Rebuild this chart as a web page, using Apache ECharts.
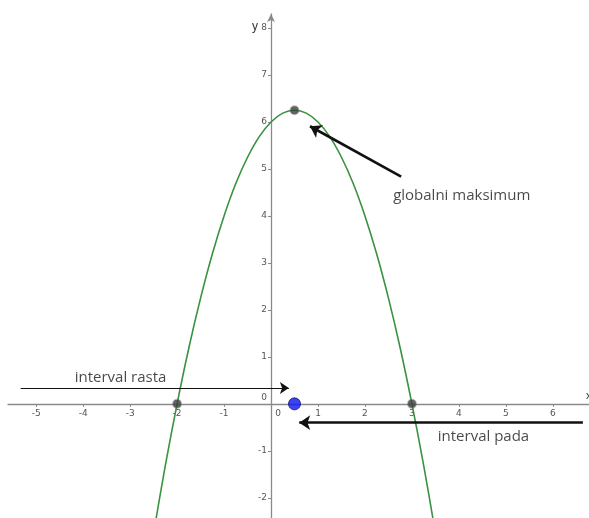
<!DOCTYPE html>
<html>
<head>
<meta charset="utf-8">
<title>Parabola</title>
<script src="https://cdn.jsdelivr.net/npm/echarts@6/dist/echarts.min.js"></script>
<style>
  html, body { margin: 0; padding: 0; background: #fff; }
  #chart { width: 589px; height: 518px; }
</style>
</head>
<body>
<div id="chart"></div>
<script>
// curve points
const curveX = [-2.5, -2.25, -2, -1.75, -1.5, -1.25, -1, -0.75, -0.5, -0.25, 0, 0.25, 0.5,
  0.75, 1, 1.25, 1.5, 1.75, 2, 2.25, 2.5, 2.75, 3, 3.25, 3.5];
const curveY = [-2.75, -1.31, 0, 1.19, 2.25, 3.19, 4, 4.69, 5.25, 5.69, 6, 6.19, 6.25,
  6.19, 6, 5.69, 5.25, 4.69, 4, 3.19, 2.25, 1.19, 0, -1.31, -2.75];

// marked points: zeros and the maximum
const specialPoints = [[-2, 0], [3, 0], [0.5, 6.25]];
const midPoint = [[0.5, 0]];

const xTicks = [-5, -4, -3, -2, -1, 0, 1, 2, 3, 4, 5, 6];
const yTicks = [-2, -1, 0, 1, 2, 3, 4, 5, 6, 7, 8];

// annotation arrows [from, to]
const arrowRasta = [[-5.33, 0.34], [0.38, 0.34]];
const arrowPada = [[6.64, -0.4], [0.6, -0.4]];
const arrowMax = [[2.77, 4.84], [0.83, 5.91]];

const labelTexts = ['interval rasta', 'globalni maksimum', 'interval pada'];
const labelPos = [[-4.18, 0.56], [2.6, 4.44], [3.55, -0.71]];

const axisColor = '#8a8a8a';
const tickFont = { color: '#555', fontSize: 9, fontFamily: 'DejaVu Sans' };

const chart = echarts.init(document.getElementById('chart'));
const gridBox = { left: 8, right: 0, top: 14, bottom: 0 };

chart.setOption({
  animation: false,
  backgroundColor: '#fff',
  grid: { ...gridBox, outerBoundsMode: 'none', containLabel: false },
  xAxis: {
    type: 'value',
    min: -5.6,
    max: 6.77,
    position: 'bottom',
    name: 'x',
    nameGap: -3,
    nameMoveOverlap: false,
    nameTextStyle: { color: '#333', fontSize: 11, verticalAlign: 'bottom', padding: [0, 0, 2, 0] },
    axisLine: { onZero: false, lineStyle: { color: axisColor, width: 1.3 } },
    axisTick: { customValues: xTicks, length: 3, lineStyle: { color: axisColor } },
    axisLabel: {
      customValues: xTicks,
      margin: 5,
      ...tickFont,
      formatter: v => (v === 0 ? '{z|0}' : String(v)),
      rich: { z: { ...tickFont, padding: [0, 0, 0, 14] } }
    },
    splitLine: { show: false }
  },
  yAxis: {
    type: 'value',
    min: -2.43,
    max: 8.3,
    position: 'left',
    name: 'y',
    nameGap: -13,
    nameMoveOverlap: false,
    nameTextStyle: { color: '#333', fontSize: 12, align: 'right', verticalAlign: 'middle', padding: [0, 13, 0, 0] },
    axisLine: { onZero: false, symbol: ['none', 'arrow'], symbolSize: [6, 8], lineStyle: { color: axisColor, width: 1.3 } },
    axisTick: { customValues: yTicks, length: 3, lineStyle: { color: axisColor } },
    axisLabel: {
      customValues: yTicks,
      margin: 4,
      ...tickFont,
      formatter: v => (v === 0 ? '{z|0}' : String(v)),
      rich: { z: { ...tickFont, padding: [0, 0, 12, 0] } }
    },
    splitLine: { show: false }
  },
  series: [
    {
      type: 'line',
      data: curveX.map((x, i) => [x, curveY[i]]),
      smooth: 0.3,
      showSymbol: false,
      clip: true,
      lineStyle: { color: '#3a9140', width: 1.6 },
      z: 3
    },
    {
      type: 'scatter',
      data: specialPoints,
      symbolSize: 8,
      itemStyle: { color: '#3d3d3d', borderColor: 'rgba(90,90,90,0.5)', borderWidth: 2 },
      z: 5
    },
    {
      type: 'scatter',
      data: midPoint,
      symbolSize: 12,
      itemStyle: { color: '#0a14f0', borderColor: '#10107a', borderWidth: 1 },
      z: 5
    },
    {
      type: 'lines',
      coordinateSystem: 'cartesian2d',
      symbol: ['none', 'arrow'],
      symbolSize: 9,
      data: [{ coords: arrowRasta }],
      lineStyle: { color: '#111', width: 1.2, opacity: 1 },
      z: 6
    },
    {
      type: 'lines',
      coordinateSystem: 'cartesian2d',
      symbol: ['none', 'arrow'],
      symbolSize: 11,
      data: [{ coords: arrowPada }, { coords: arrowMax }],
      lineStyle: { color: '#111', width: 2.6, opacity: 1 },
      z: 6
    },
    {
      type: 'scatter',
      data: labelPos.map((p, i) => ({ value: p, name: labelTexts[i] })),
      symbolSize: 0,
      label: {
        show: true,
        position: 'right',
        distance: 0,
        formatter: p => p.name,
        color: '#1a1a1a',
        fontSize: 15,
        fontFamily: 'Open Sans'
      },
      z: 7
    }
  ]
});

// move both axes onto the origin, using the chart's own scales
const origin = chart.convertToPixel({ gridIndex: 0 }, [0, 0]);
const chartH = chart.getHeight();
chart.setOption({
  xAxis: { offset: -((chartH - gridBox.bottom) - origin[1]) },
  yAxis: { offset: -(origin[0] - gridBox.left) }
});
</script>
</body>
</html>
